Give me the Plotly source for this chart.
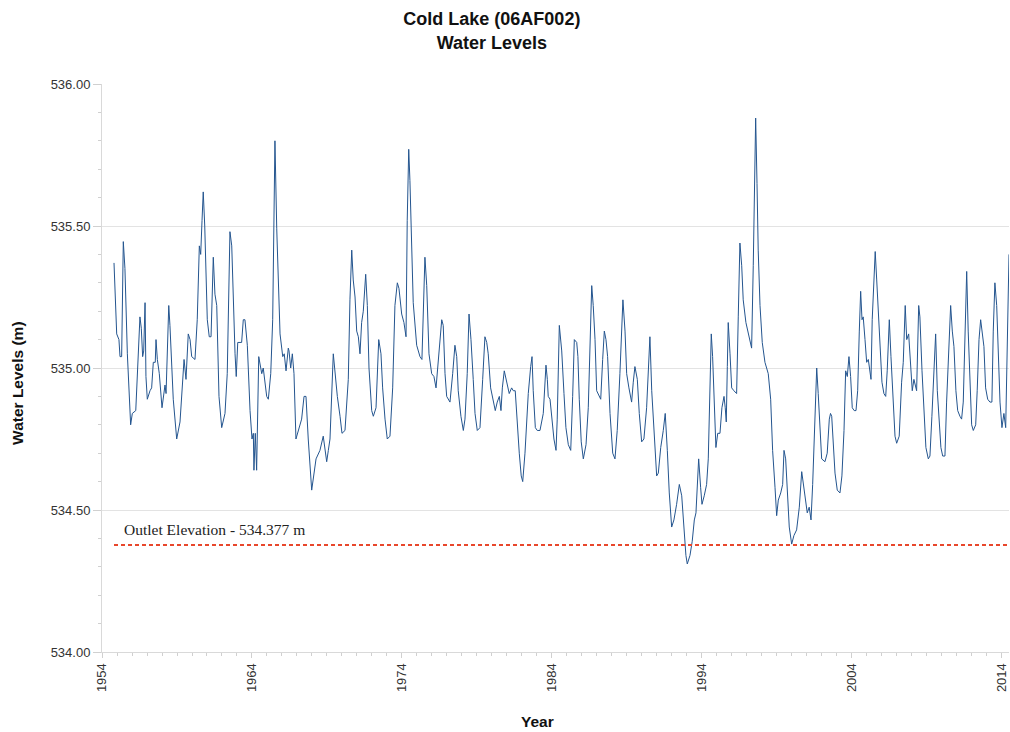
import plotly.graph_objects as go

# Decimal year of each reading
years = [
    1954.80, 1954.87, 1954.98, 1955.13, 1955.20, 1955.31, 1955.42, 1955.53, 1955.69, 1955.91,
    1956.02, 1956.25, 1956.42, 1956.53, 1956.62, 1956.71, 1956.78, 1956.87, 1956.93, 1957.02,
    1957.20, 1957.31, 1957.42, 1957.55, 1957.60, 1957.69, 1957.82, 1958.00, 1958.20, 1958.27,
    1958.45, 1958.53, 1958.75, 1958.98, 1959.20, 1959.47, 1959.60, 1959.75, 1959.87, 1959.98,
    1960.20, 1960.35, 1960.49, 1960.58, 1960.67, 1960.75, 1960.85, 1960.93, 1961.02, 1961.15,
    1961.27, 1961.42, 1961.53, 1961.65, 1961.80, 1961.98, 1962.20, 1962.35, 1962.53, 1962.65,
    1962.75, 1962.87, 1962.95, 1963.05, 1963.31, 1963.42, 1963.53, 1963.69, 1963.87, 1964.00,
    1964.09, 1964.13, 1964.22, 1964.31, 1964.45, 1964.65, 1964.75, 1964.98, 1965.09, 1965.25,
    1965.38, 1965.47, 1965.53, 1965.65, 1965.75, 1965.87, 1966.05, 1966.15, 1966.27, 1966.42,
    1966.47, 1966.58, 1966.69, 1966.80, 1966.93, 1967.09, 1967.31, 1967.47, 1967.60, 1967.75,
    1967.98, 1968.27, 1968.53, 1968.75, 1968.87, 1968.98, 1969.09, 1969.20, 1969.42, 1969.55,
    1969.69, 1969.87, 1970.00, 1970.20, 1970.42, 1970.53, 1970.65, 1970.75, 1970.87, 1970.98,
    1971.09, 1971.20, 1971.31, 1971.42, 1971.58, 1971.69, 1971.80, 1971.98, 1972.09, 1972.27,
    1972.45, 1972.60, 1972.71, 1972.87, 1973.02, 1973.20, 1973.38, 1973.53, 1973.69, 1973.80,
    1973.98, 1974.13, 1974.27, 1974.35, 1974.45, 1974.53, 1974.65, 1974.75, 1974.98, 1975.20,
    1975.33, 1975.42, 1975.53, 1975.65, 1975.80, 1975.98, 1976.13, 1976.27, 1976.42, 1976.65,
    1976.75, 1976.87, 1976.98, 1977.20, 1977.38, 1977.53, 1977.65, 1977.75, 1977.93, 1978.09,
    1978.20, 1978.35, 1978.47, 1978.60, 1978.75, 1978.87, 1979.02, 1979.20, 1979.38, 1979.53,
    1979.65, 1979.75, 1979.91, 1980.09, 1980.22, 1980.35, 1980.49, 1980.60, 1980.69, 1980.82,
    1980.98, 1981.15, 1981.31, 1981.42, 1981.55, 1981.69, 1981.82, 1981.95, 1982.05, 1982.20,
    1982.42, 1982.58, 1982.67, 1982.75, 1982.89, 1983.02, 1983.20, 1983.42, 1983.60, 1983.69,
    1983.75, 1983.87, 1984.00, 1984.13, 1984.27, 1984.35, 1984.49, 1984.65, 1984.80, 1984.93,
    1985.09, 1985.25, 1985.38, 1985.49, 1985.65, 1985.73, 1985.82, 1985.95, 1986.09, 1986.27,
    1986.42, 1986.53, 1986.65, 1986.75, 1986.87, 1986.98, 1987.15, 1987.25, 1987.38, 1987.49,
    1987.60, 1987.71, 1987.87, 1988.05, 1988.20, 1988.35, 1988.53, 1988.65, 1988.73, 1988.87,
    1988.98, 1989.13, 1989.31, 1989.42, 1989.53, 1989.69, 1989.82, 1989.98, 1990.13, 1990.31,
    1990.42, 1990.53, 1990.65, 1990.75, 1990.87, 1990.98, 1991.09, 1991.25, 1991.42, 1991.55,
    1991.69, 1991.82, 1991.98, 1992.13, 1992.31, 1992.49, 1992.65, 1992.80, 1992.93, 1993.02,
    1993.20, 1993.35, 1993.49, 1993.60, 1993.69, 1993.78, 1993.91, 1994.00, 1994.15, 1994.31,
    1994.42, 1994.53, 1994.62, 1994.71, 1994.80, 1994.93, 1995.05, 1995.20, 1995.33, 1995.47,
    1995.55, 1995.62, 1995.69, 1995.75, 1995.87, 1995.98, 1996.13, 1996.31, 1996.42, 1996.53,
    1996.65, 1996.75, 1996.93, 1997.09, 1997.20, 1997.31, 1997.42, 1997.51, 1997.58, 1997.67,
    1997.75, 1997.87, 1998.02, 1998.20, 1998.42, 1998.58, 1998.71, 1998.87, 1998.98, 1999.09,
    1999.25, 1999.38, 1999.47, 1999.58, 1999.69, 1999.82, 1999.98, 2000.13, 2000.31, 2000.49,
    2000.65, 2000.75, 2000.89, 2001.02, 2001.15, 2001.27, 2001.38, 2001.51, 2001.65, 2001.75,
    2001.87, 2001.98, 2002.20, 2002.35, 2002.49, 2002.57, 2002.65, 2002.75, 2002.87, 2003.02,
    2003.20, 2003.33, 2003.47, 2003.58, 2003.69, 2003.80, 2003.91, 2004.02, 2004.15, 2004.27,
    2004.38, 2004.49, 2004.58, 2004.67, 2004.75, 2004.87, 2004.98, 2005.09, 2005.20, 2005.27,
    2005.35, 2005.47, 2005.55, 2005.65, 2005.75, 2005.87, 2006.00, 2006.13, 2006.25, 2006.35,
    2006.49, 2006.60, 2006.71, 2006.87, 2006.98, 2007.15, 2007.31, 2007.42, 2007.55, 2007.65,
    2007.78, 2007.91, 2008.02, 2008.13, 2008.31, 2008.45, 2008.53, 2008.67, 2008.80, 2008.93,
    2009.09, 2009.20, 2009.33, 2009.47, 2009.58, 2009.69, 2009.80, 2009.93, 2010.05, 2010.20,
    2010.31, 2010.45, 2010.58, 2010.69, 2010.80, 2010.93, 2011.05, 2011.20, 2011.31, 2011.42,
    2011.53, 2011.65, 2011.75, 2011.87, 2011.98, 2012.09, 2012.25, 2012.35, 2012.47, 2012.58,
    2012.69, 2012.80, 2012.91, 2013.05, 2013.20, 2013.33, 2013.42, 2013.53, 2013.65, 2013.75,
    2013.87, 2014.00, 2014.13, 2014.25, 2014.38, 2014.47,
]

# Water level (m)
levels = [
    535.37, 535.26, 535.12, 535.10, 535.04, 535.04, 535.445, 535.35, 535.05, 534.80,
    534.84, 534.85, 535.02, 535.18, 535.14, 535.04, 535.06, 535.23, 534.97, 534.89,
    534.92, 534.93, 535.02, 535.02, 535.10, 535.03, 534.98, 534.86, 534.94, 534.91,
    535.22, 535.15, 534.89, 534.75, 534.81, 535.03, 534.96, 535.12, 535.10, 535.04,
    535.03, 535.17, 535.43, 535.40, 535.52, 535.62, 535.50, 535.35, 535.17, 535.11,
    535.11, 535.39, 535.26, 535.22, 534.90, 534.79, 534.84, 534.98, 535.48, 535.43,
    535.22, 535.05, 534.97, 535.09, 535.09, 535.17, 535.17, 535.08, 534.85, 534.75,
    534.77, 534.64, 534.77, 534.64, 535.04, 534.98, 535.00, 534.90, 534.89, 534.98,
    535.17, 535.49, 535.80, 535.49, 535.29, 535.12, 535.04, 535.05, 534.99, 535.07,
    535.06, 535.00, 535.05, 534.98, 534.75, 534.78, 534.82, 534.90, 534.90, 534.75,
    534.57, 534.68, 534.71, 534.76, 534.70, 534.67, 534.71, 534.75, 535.05, 534.97,
    534.90, 534.83, 534.77, 534.78, 534.96, 535.24, 535.415, 535.31, 535.25, 535.13,
    535.11, 535.05, 535.16, 535.20, 535.33, 535.22, 535.00, 534.85, 534.83, 534.86,
    535.10, 535.05, 534.93, 534.82, 534.75, 534.76, 534.93, 535.22, 535.30, 535.28,
    535.19, 535.16, 535.11, 535.52, 535.77, 535.66, 535.41, 535.23, 535.08, 535.04,
    535.03, 535.17, 535.39, 535.29, 535.05, 534.98, 534.97, 534.93, 535.02, 535.17,
    535.15, 534.98, 534.90, 534.88, 534.98, 535.08, 535.04, 534.92, 534.83, 534.78,
    534.82, 534.98, 535.19, 535.10, 534.96, 534.84, 534.78, 534.79, 534.96, 535.11,
    535.09, 535.05, 534.93, 534.88, 534.85, 534.88, 534.90, 534.85, 534.93, 534.99,
    534.95, 534.91, 534.93, 534.92, 534.92, 534.79, 534.70, 534.62, 534.60, 534.70,
    534.91, 535.005, 535.04, 534.92, 534.79, 534.78, 534.78, 534.84, 535.01, 534.96,
    534.90, 534.89, 534.82, 534.75, 534.71, 534.82, 535.15, 535.06, 534.91, 534.79,
    534.73, 534.71, 534.90, 535.10, 535.09, 535.04, 534.89, 534.74, 534.68, 534.73,
    534.86, 535.04, 535.29, 535.22, 535.10, 534.92, 534.90, 534.89, 535.03, 535.13,
    535.10, 535.04, 534.84, 534.70, 534.68, 534.78, 534.98, 535.145, 535.24, 535.13,
    534.98, 534.93, 534.88, 534.95, 535.005, 534.96, 534.84, 534.74, 534.75, 534.86,
    534.98, 535.11, 534.92, 534.83, 534.70, 534.62, 534.63, 534.72, 534.78, 534.84,
    534.71, 534.56, 534.44, 534.465, 534.52, 534.59, 534.55, 534.42, 534.34, 534.31,
    534.34, 534.39, 534.465, 534.49, 534.59, 534.68, 534.58, 534.52, 534.55, 534.59,
    534.68, 534.89, 535.12, 535.04, 534.91, 534.72, 534.77, 534.77, 534.86, 534.90,
    534.86, 534.81, 535.005, 535.16, 535.05, 534.93, 534.92, 534.91, 535.18, 535.44,
    535.36, 535.24, 535.16, 535.12, 535.10, 535.07, 535.36, 535.71, 535.88, 535.65,
    535.415, 535.22, 535.09, 535.02, 534.98, 534.89, 534.71, 534.58, 534.48, 534.535,
    534.56, 534.59, 534.71, 534.68, 534.56, 534.44, 534.38, 534.41, 534.43, 534.51,
    534.635, 534.59, 534.535, 534.49, 534.51, 534.465, 534.59, 534.77, 535.00, 534.91,
    534.81, 534.68, 534.67, 534.70, 534.82, 534.84, 534.83, 534.72, 534.63, 534.57,
    534.56, 534.62, 534.78, 534.99, 534.97, 535.04, 534.97, 534.86, 534.85, 534.85,
    534.92, 535.13, 535.27, 535.17, 535.18, 535.10, 535.02, 535.03, 534.99, 534.96,
    535.17, 535.31, 535.41, 535.31, 535.19, 535.075, 534.95, 534.91, 534.90, 534.99,
    535.17, 535.04, 534.90, 534.76, 534.735, 534.76, 534.95, 535.02, 535.22, 535.10,
    535.12, 534.99, 534.92, 534.96, 534.92, 535.22, 535.18, 534.99, 534.83, 534.72,
    534.68, 534.69, 534.83, 534.99, 535.12, 534.92, 534.81, 534.72, 534.69, 534.69,
    534.88, 535.06, 535.22, 535.13, 535.075, 534.92, 534.85, 534.83, 534.82, 534.88,
    535.13, 535.34, 535.13, 534.93, 534.80, 534.78, 534.80, 534.92, 535.10, 535.17,
    535.13, 535.075, 534.93, 534.89, 534.88, 534.88, 535.13, 535.30, 535.22, 535.02,
    534.88, 534.79, 534.84, 534.79, 535.13, 535.40,
]

outlet_elevation = 534.377
outlet_label = "Outlet Elevation - 534.377 m"
x_title = "Year"
y_title = "Water Levels (m)"
x_range = [1954, 2014.47]
y_range = [534.0, 536.0]
x_ticks = [1954, 1964, 1974, 1984, 1994, 2004, 2014]
y_ticks = [534.0, 534.5, 535.0, 535.5, 536.0]

fig = go.Figure()
fig.add_trace(go.Scatter(
    x=years, y=levels, mode="lines",
    line=dict(color="#24558f", width=1),
    showlegend=False, hoverinfo="x+y",
))
fig.add_trace(go.Scatter(
    x=[years[0], x_range[1]], y=[outlet_elevation, outlet_elevation], mode="lines",
    line=dict(color="#e8472c", width=2, dash="4px,3px"),
    showlegend=False, hoverinfo="skip",
))
fig.add_annotation(
    x=1955.3, y=534.43, xref="x", yref="y", text=outlet_label,
    showarrow=False, xanchor="left", yanchor="middle",
    font=dict(family="Liberation Serif, Times New Roman, serif", size=15.5, color="#222"),
)
# Axis titles (placed as in the reference)
fig.add_annotation(
    x=0.48, y=-0.1215, xref="paper", yref="paper", text=f"<b>{x_title}</b>",
    showarrow=False, xanchor="center", yanchor="middle",
    font=dict(family="Liberation Sans, Arial, sans-serif", size=15.5, color="#111"),
)
fig.add_annotation(
    x=-0.0926, y=0.472, xref="paper", yref="paper", text=f"<b>{y_title}</b>",
    showarrow=False, xanchor="center", yanchor="middle", textangle=-90,
    font=dict(family="Liberation Sans, Arial, sans-serif", size=15.5, color="#111"),
)

fig.update_layout(
    width=1010, height=732,
    margin=dict(l=102, r=1, t=84, b=80),
    paper_bgcolor="white", plot_bgcolor="white",
    title=dict(
        text="<b>Cold Lake (06AF002)<br>Water Levels</b>",
        x=0.487, xanchor="center", xref="container",
        y=0.9655, yanchor="top",
        font=dict(family="Liberation Sans, Arial, sans-serif", size=18, color="#111"),
    ),
    font=dict(family="Liberation Sans, Arial, sans-serif", size=13, color="#444"),
)
fig.update_xaxes(
    range=x_range, tickmode="array", tickvals=x_ticks,
    ticktext=[str(t) for t in x_ticks],
    tickangle=-90, showgrid=False, zeroline=False,
    showline=True, linecolor="#d9d9d9", linewidth=1,
    ticks="outside", ticklen=5, tickcolor="#d0d0d0",
    minor=dict(dtick=1, tick0=1954, ticks="outside", ticklen=3, tickcolor="#d0d0d0", showgrid=False),
    tickfont=dict(size=13, color="#333"),
)
fig.update_yaxes(
    range=y_range, tickmode="array", tickvals=y_ticks,
    ticktext=[f"{t:.2f}" for t in y_ticks],
    showgrid=True, gridcolor="#e3e3e3", gridwidth=1, zeroline=False,
    showline=True, linecolor="#d9d9d9", linewidth=1,
    ticks="outside", ticklen=8, tickcolor="#d0d0d0",
    minor=dict(dtick=0.1, tick0=534.0, ticks="outside", ticklen=3, tickcolor="#d0d0d0", showgrid=False),
    tickfont=dict(size=13, color="#333"),
)

fig.write_html(
    "out.html",
    config={"displayModeBar": False},
    post_script="document.body.style.margin='0';document.body.style.overflow='hidden';",
)
